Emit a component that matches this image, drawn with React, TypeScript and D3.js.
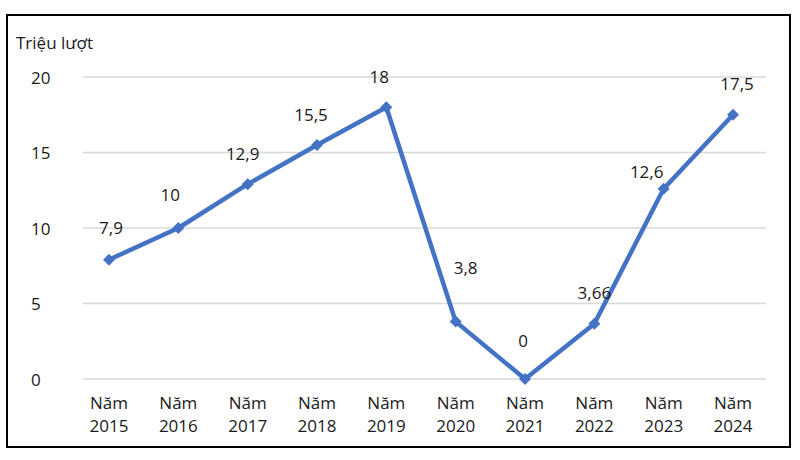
import React from 'react'
import * as d3 from 'd3'

// chart data
const years = ['2015', '2016', '2017', '2018', '2019', '2020', '2021', '2022', '2023', '2024']
const visitors = [7.9, 10, 12.9, 15.5, 18, 3.8, 0, 3.66, 12.6, 17.5]
const valueLabels = ['7,9', '10', '12,9', '15,5', '18', '3,8', '0', '3,66', '12,6', '17,5']
const yTicks = [0, 5, 10, 15, 20]
const yTitle = 'Triệu lượt'
const xPrefix = 'Năm'

// label nudges (layout only, px)
const labelShift: [number, number][] = [
    [2, -32], [-8, -34], [-5, -31], [-6, -30], [-7, -31],
    [10, -54], [-2, -39], [0, -31], [-17, -17], [4, -31],
]

const W = 800
const H = 460
const font = '"Open Sans", "Noto Sans", sans-serif'
const blue = '#4472C4'
const textColor = '#1a1a1a'

export default function App() {
    const x = d3.scalePoint<string>().domain(years).range([109, 733])
    const y = d3.scaleLinear().domain([0, 20]).range([379, 77])

    const line = d3.line<number>()
        .x((_, i) => x(years[i])!)
        .y(d => y(d))

    // square turned 45deg, like excel's diamond marker
    const marker = d3.symbol().type(d3.symbolSquare).size(72)()

    return (
        <svg width={W} height={H} style={{ position: 'absolute', left: 0, top: 0, background: '#fff' }}
            fontFamily={font}>
            <rect x={7} y={15} width={783} height={432} fill='#fff' stroke='#000' strokeWidth={2} />

            <text x={16} y={42} dominantBaseline='central' fontSize={17} fill={textColor}>{yTitle}</text>

            {yTicks.map(t => (
                <g key={t}>
                    <line x1={83} x2={766} y1={y(t)} y2={y(t)} stroke='#d9d9d9' strokeWidth={1.3} />
                    <text x={31} y={y(t)} dominantBaseline='central' fontSize={17} fill={textColor}>{t}</text>
                </g>
            ))}

            {years.map(yr => (
                <text key={yr} x={x(yr)} textAnchor='middle' fontSize={17} fill={textColor}>
                    <tspan x={x(yr)} y={409}>{xPrefix}</tspan>
                    <tspan x={x(yr)} y={432}>{yr}</tspan>
                </text>
            ))}

            <path d={line(visitors) ?? ''} fill='none' stroke={blue} strokeWidth={4.5} strokeLinejoin='round' />

            {visitors.map((v, i) => (
                <path key={i} d={marker ?? ''} fill={blue}
                    transform={`translate(${x(years[i])},${y(v)}) rotate(45)`} />
            ))}

            {visitors.map((v, i) => (
                <text key={'l' + i} x={x(years[i])! + labelShift[i][0]} y={y(v) + labelShift[i][1]}
                    textAnchor='middle' dominantBaseline='central' fontSize={17} fill={textColor}>
                    {valueLabels[i]}
                </text>
            ))}
        </svg>
    )
}
